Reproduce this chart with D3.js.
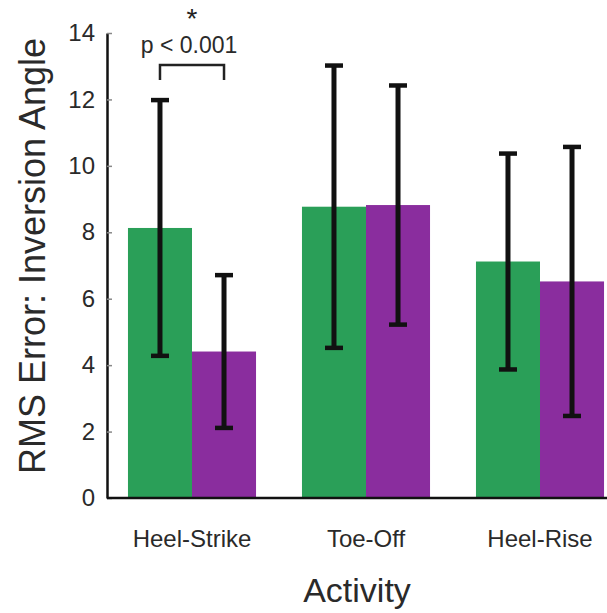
<!DOCTYPE html>
<html>
<head>
<meta charset="utf-8">
<script src="https://cdn.jsdelivr.net/npm/d3@7/dist/d3.min.js"></script>
<style>
  html, body { margin: 0; padding: 0; background: #fff; }
  svg { display: block; font-family: "Liberation Sans", Arial, Helvetica, sans-serif; }
</style>
</head>
<body>
<svg id="chart" width="607" height="613"></svg>
<script>
// Activities on the x axis and the two compared series
const categories = ["Heel-Strike", "Toe-Off", "Heel-Rise"];
const seriesNames = ["A", "B"];
const seriesColors = ["#2a9f58", "#8a2d9e"];

// Mean RMS error (deg) per activity, per series
const meansA = [8.13, 8.77, 7.12];
const meansB = [4.41, 8.82, 6.52];
// Standard deviation per activity, per series
const sdA = [3.85, 4.25, 3.25];
const sdB = [2.3, 3.6, 4.05];

const yTicks = [0, 2, 4, 6, 8, 10, 12, 14];

const svg = d3.select("#chart");

const x = d3.scaleBand().domain(categories).range([105, 627]).paddingInner(0.264).paddingOuter(0.132);
const xs = d3.scaleBand().domain(seriesNames).range([0, x.bandwidth()]);
const y = d3.scaleLinear().domain([0, 14]).range([498, 33]);

const rows = [];
categories.forEach((c, i) => {
  rows.push({ cat: c, s: "A", mean: meansA[i], sd: sdA[i], color: seriesColors[0] });
  rows.push({ cat: c, s: "B", mean: meansB[i], sd: sdB[i], color: seriesColors[1] });
});

// Bars
svg.append("g").selectAll("rect").data(rows).join("rect")
  .attr("x", d => x(d.cat) + xs(d.s))
  .attr("width", xs.bandwidth())
  .attr("y", d => y(d.mean))
  .attr("height", d => y(0) - y(d.mean))
  .attr("fill", d => d.color);

// Error bars (mean ± SD)
const eb = svg.append("g").attr("stroke", "#111").attr("fill", "none");
rows.forEach(d => {
  const cx = x(d.cat) + xs(d.s) + xs.bandwidth() / 2;
  const lo = y(d.mean - d.sd), hi = y(d.mean + d.sd);
  eb.append("line").attr("x1", cx).attr("x2", cx).attr("y1", hi).attr("y2", lo).attr("stroke-width", 5);
  eb.append("line").attr("x1", cx - 9).attr("x2", cx + 9).attr("y1", hi).attr("y2", hi).attr("stroke-width", 4.5);
  eb.append("line").attr("x1", cx - 9).attr("x2", cx + 9).attr("y1", lo).attr("y2", lo).attr("stroke-width", 4.5);
});

// Y axis
const yAxis = d3.axisLeft(y).tickValues(yTicks).tickSizeInner(-5).tickSizeOuter(0).tickPadding(12);
const gy = svg.append("g").attr("transform", "translate(107,0)").call(yAxis);
gy.select(".domain").attr("stroke", "#111").attr("stroke-width", 2.5);
gy.selectAll(".tick line").attr("stroke", "#888").attr("stroke-width", 1.5);
gy.selectAll(".tick text").attr("font-size", 24).attr("fill", "#2a2a2a").attr("font-family", "Liberation Sans, Arial, sans-serif");

// X axis baseline with activity labels
const xAxis = d3.axisBottom(x).tickSize(0).tickPadding(32);
const gx = svg.append("g").attr("transform", "translate(0,498)").call(xAxis);
gx.select(".domain").attr("d", "M107,0H607").attr("stroke", "#111").attr("stroke-width", 2.5);
gx.selectAll(".tick text").attr("font-size", 24).attr("fill", "#2a2a2a").attr("font-family", "Liberation Sans, Arial, sans-serif");

// Axis titles
svg.append("text").attr("x", 357).attr("y", 602).attr("text-anchor", "middle")
  .attr("font-size", 34).attr("fill", "#2a2a2a").text("Activity");
svg.append("text").attr("transform", "translate(45,256) rotate(-90)").attr("text-anchor", "middle")
  .attr("font-size", 36).attr("fill", "#2a2a2a").text("RMS Error: Inversion Angle");

// Significance bracket on Heel-Strike
const bx0 = x("Heel-Strike") + xs("A") + xs.bandwidth() / 2;
const bx1 = x("Heel-Strike") + xs("B") + xs.bandwidth() / 2;
svg.append("path")
  .attr("d", `M${bx0},80V65H${bx1}V80`)
  .attr("fill", "none").attr("stroke", "#222").attr("stroke-width", 2.5);
svg.append("text").attr("x", (bx0 + bx1) / 2 - 3).attr("y", 53).attr("text-anchor", "middle")
  .attr("font-size", 23).attr("fill", "#2a2a2a").text("p < 0.001");
svg.append("text").attr("x", (bx0 + bx1) / 2).attr("y", 28).attr("text-anchor", "middle")
  .attr("font-size", 28).attr("fill", "#222").text("*");
</script>
</body>
</html>
